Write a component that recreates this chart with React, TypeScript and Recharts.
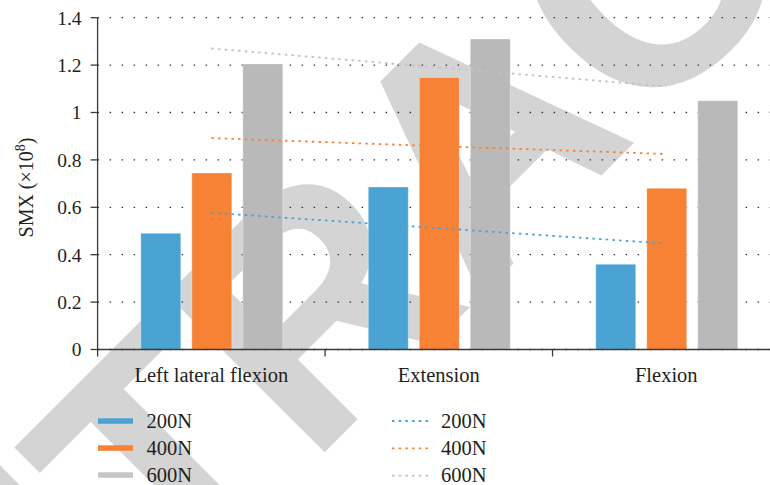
import React from 'react';
import { ComposedChart, Bar, Line, XAxis, YAxis, CartesianGrid } from 'recharts';

const categories = ['Left lateral flexion', 'Extension', 'Flexion'];
const bar200 = [0.49, 0.686, 0.36];
const bar400 = [0.745, 1.148, 0.68];
const bar600 = [1.205, 1.31, 1.05];
const trend200 = [0.577, 0.512, 0.447];
const trend400 = [0.892, 0.858, 0.825];
const trend600 = [1.27, 1.19, 1.11];
const yTicks = [0, 0.2, 0.4, 0.6, 0.8, 1, 1.2, 1.4];
const seriesNames = ['200N', '400N', '600N'];
const barKeys = ['b200', 'b400', 'b600'];
const trendKeys = ['t200', 't400', 't600'];
const barColors = ['#4aa3d3', '#f78236', '#b9b9b9'];
const legendBarColors = ['#4aa3d3', '#f78236', '#c5c6c5'];
const trendColors = ['#4aa3d3', '#f78236', '#c2c2c2'];

const data = categories.map((name, i) => ({
  name,
  b200: bar200[i],
  b400: bar400[i],
  b600: bar600[i],
  t200: trend200[i],
  t400: trend400[i],
  t600: trend600[i],
}));

const FONT = '"Liberation Serif", "Times New Roman", serif';
const TEXT = '#231f20';
const AXIS = '#3a3a3a';
const TICK_SIZE = 7;
const TICK_MARGIN = 11;

const CatTick = (props: any) => {
  const { x, y, payload, index } = props;
  const half = payload && payload.offset ? payload.offset : 113.75;
  const axisY = y - TICK_SIZE - TICK_MARGIN;
  return (
    <g>
      <line x1={x - half} x2={x - half} y1={axisY} y2={axisY + TICK_SIZE} stroke={AXIS} strokeWidth={1.3} />
      {index === categories.length - 1 && (
        <line x1={x + half} x2={x + half} y1={axisY} y2={axisY + TICK_SIZE} stroke={AXIS} strokeWidth={1.3} />
      )}
      <text x={x} y={y} dy="0.71em" textAnchor="middle" fontFamily={FONT} fontSize={20.5} fill={TEXT}>
        {payload.value}
      </text>
    </g>
  );
};

const YLabel = () => (
  <text
    transform="translate(33.3,187.5) rotate(-90)"
    textAnchor="middle"
    fontFamily={FONT}
    fontSize={20}
    fill={TEXT}
  >
    SMX (×10
    <tspan dy={-8} fontSize={14}>8</tspan>
    <tspan dy={8}>)</tspan>
  </text>
);

export default function App() {
  return (
    <div
      style={{
        position: 'absolute',
        left: 0,
        top: 0,
        width: 770,
        height: 485,
        overflow: 'hidden',
        background: '#fff',
      }}
    >
      <svg width={770} height={485} style={{ position: 'absolute', left: 0, top: 0 }}>
        <text
          x={0}
          y={0}
          transform="translate(-148.9,925.9) rotate(-45)"
          fontFamily='"Liberation Sans", Arial, sans-serif'
          fontWeight="bold"
          fontSize={324}
          fill="#d4d4d4"
        >
          RETRACTED
        </text>
      </svg>
      <div style={{ position: 'absolute', left: 0, top: 0 }}>
        <ComposedChart
          width={790}
          height={485}
          data={data}
          margin={{ top: 17.7, right: 10, bottom: 95.5, left: 0 }}
          barCategoryGap="19%"
          barGap={11}
        >
          <CartesianGrid
            vertical={false}
            stroke="#333"
            strokeWidth={1.3}
            strokeDasharray="1.5 10.5"
          />
          <XAxis
            dataKey="name"
            type="category"
            height={40}
            axisLine={{ stroke: AXIS, strokeWidth: 1.3 }}
            tickLine={false}
            tickSize={TICK_SIZE}
            tickMargin={TICK_MARGIN}
            tick={<CatTick />}
            interval={0}
          />
          <YAxis
            width={97.6}
            domain={[0, 1.4]}
            ticks={yTicks}
            interval={0}
            axisLine={{ stroke: AXIS, strokeWidth: 1.3 }}
            tickLine={{ stroke: AXIS, strokeWidth: 1.3 }}
            tickSize={TICK_SIZE}
            tickMargin={9}
            tick={{ fontFamily: FONT, fontSize: 19.5, fill: TEXT }}
            tickFormatter={(v: number) => String(v)}
            label={{ content: () => <YLabel /> }}
          />
          {trendKeys.map((k, i) => (
            <Line
              key={k}
              dataKey={k}
              name={seriesNames[i]}
              type="linear"
              stroke={trendColors[i]}
              strokeWidth={1.8}
              strokeDasharray="2.5 4.2"
              dot={false}
              activeDot={false}
              isAnimationActive={false}
            />
          ))}
          {barKeys.map((k, i) => (
            <Bar
              key={k}
              dataKey={k}
              name={seriesNames[i]}
              fill={barColors[i]}
              stroke="#ffffff"
              strokeOpacity={0.35}
              strokeWidth={1}
              isAnimationActive={false}
            />
          ))}
        </ComposedChart>
      </div>
      <svg width={770} height={485} style={{ position: 'absolute', left: 0, top: 0 }}>
        {seriesNames.map((n, i) => (
          <g key={'lb' + n}>
            <rect x={98} y={418.3 + 27 * i} width={35} height={5.5} fill={legendBarColors[i]} />
            <text x={146.5} y={427.5 + 27 * i} fontFamily={FONT} fontSize={20.5} fill={TEXT}>
              {n}
            </text>
          </g>
        ))}
        {seriesNames.map((n, i) => (
          <g key={'ll' + n}>
            <line
              x1={392}
              x2={428}
              y1={421 + 27.3 * i}
              y2={421 + 27.3 * i}
              stroke={trendColors[i]}
              strokeWidth={1.8}
              strokeDasharray="2.5 4.2"
            />
            <text x={441} y={427.5 + 27 * i} fontFamily={FONT} fontSize={20.5} fill={TEXT}>
              {n}
            </text>
          </g>
        ))}
      </svg>
    </div>
  );
}
